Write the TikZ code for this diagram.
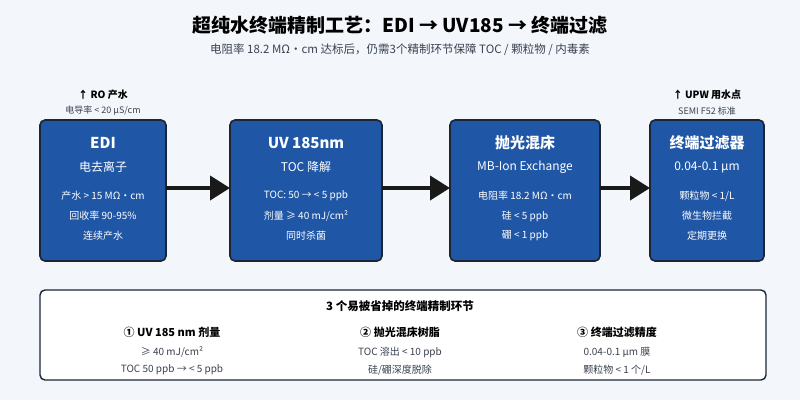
\documentclass[tikz,border=0pt]{standalone}
\usepackage{fontspec}
\setmainfont{Noto Sans CJK SC}
\usetikzlibrary{arrows.meta}
\definecolor{stepblue}{HTML}{1F56A6}
\definecolor{edge}{HTML}{1B2533}
\definecolor{bgc}{HTML}{F3F7FC}
\definecolor{subgray}{HTML}{3A4250}
\tikzset{
  stage/.style={draw=edge,line width=1.6pt,fill=stepblue,rounded corners=5pt},
  hd/.style={text=white,font=\bfseries\fontsize{15}{17}\selectfont},
  sub/.style={text=white,font=\fontsize{12}{14}\selectfont},
  ln/.style={text=white,font=\fontsize{10}{12}\selectfont},
  flow/.style={line width=4pt,draw=black!90,-{Triangle[length=20pt,width=24pt]}},
  note/.style={font=\fontsize{10}{12}\selectfont,text=subgray},
  notehd/.style={font=\bfseries\fontsize{11}{13}\selectfont},
}
\begin{document}
\begin{tikzpicture}[x=1pt,y=-1pt]
\fill[bgc] (0,0) rectangle (800,400);
\useasboundingbox (0,0) rectangle (800,400);

% title
\node[font=\bfseries\fontsize{19}{21}\selectfont] (title) at (400,25) {超纯水终端精制工艺：EDI → UV185 → 终端过滤};
\node[font=\fontsize{11.5}{13}\selectfont,text=subgray] (subtitle) at (400,50) {电阻率 18.2 MΩ・cm 达标后，仍需3个精制环节保障 TOC / 颗粒物 / 内毒素};

% stages
\draw[stage] (40,120) rectangle (166,261);
\draw[stage] (230,120) rectangle (382,261);
\draw[stage] (450,120) rectangle (600,261);
\draw[stage] (650,120) rectangle (764,261);
\coordinate (s1e) at (166,188);
\coordinate (s2w) at (230,188);
\coordinate (s2e) at (382,188);
\coordinate (s3w) at (450,188);
\coordinate (s3e) at (600,188);
\coordinate (s4w) at (650,188);

\node[hd] (edi) at (103,143) {EDI};
\node[sub] (edis) at (103,167) {电去离子};
\node[ln] (edi1) at (103,196) {产水 > 15 MΩ・cm};
\node[ln] (edi2) at (103,216) {回收率 90-95\%};
\node[ln] (edi3) at (103,236) {连续产水};

\node[hd] (uv) at (306,143) {UV 185nm};
\node[sub] (uvs) at (306,167) {TOC 降解};
\node[ln] (uv1) at (306,196) {TOC: 50 → < 5 ppb};
\node[ln] (uv2) at (306,216) {剂量 ≥ 40 mJ/cm²};
\node[ln] (uv3) at (306,236) {同时杀菌};

\node[hd] (mb) at (525,143) {抛光混床};
\node[sub] (mbs) at (525,167) {MB-Ion Exchange};
\node[ln] (mb1) at (525,196) {电阻率 18.2 MΩ・cm};
\node[ln] (mb2) at (525,216) {硅 < 5 ppb};
\node[ln] (mb3) at (525,236) {硼 < 1 ppb};

\node[hd] (flt) at (707,143) {终端过滤器};
\node[sub] (flts) at (707,167) {0.04-0.1 µm};
\node[ln] (flt1) at (707,196) {颗粒物 < 1/L};
\node[ln] (flt2) at (707,216) {微生物拦截};
\node[ln] (flt3) at (707,236) {定期更换};

\draw[flow] (s1e) -- (s2w);
\draw[flow] (s2e) -- (s3w);
\draw[flow] (s3e) -- (s4w);

% in / out notes
\node[notehd,font=\bfseries\fontsize{10}{12}\selectfont] (inlet) at (103,95) {↑ RO 产水};
\node[note,font=\fontsize{9}{11}\selectfont] (inlet2) at (103,111) {电导率 < 20 µS/cm};
\node[notehd,font=\bfseries\fontsize{10}{12}\selectfont] (outlet) at (707,95) {↑ UPW 用水点};
\node[note,font=\fontsize{9}{11}\selectfont] (outlet2) at (707,111) {SEMI F52 标准};

% bottom panel
\draw[draw=edge,line width=1.4pt,fill=white,rounded corners=5pt] (40,290) rectangle (766,380);
\node[font=\bfseries\fontsize{11.5}{13}\selectfont] (panel) at (400,306) {3 个易被省掉的终端精制环节};
\node[notehd] (k1) at (172,332) {① UV 185 nm 剂量};
\node[note] (k1a) at (172,352) {≥ 40 mJ/cm²};
\node[note] (k1b) at (172,370) {TOC 50 ppb → < 5 ppb};
\node[notehd] (k2) at (400,332) {② 抛光混床树脂};
\node[note] (k2a) at (400,352) {TOC 溶出 < 10 ppb};
\node[note] (k2b) at (400,370) {硅/硼深度脱除};
\node[notehd] (k3) at (617,332) {③ 终端过滤精度};
\node[note] (k3a) at (617,352) {0.04-0.1 µm 膜};
\node[note] (k3b) at (617,370) {颗粒物 < 1 个/L};
\end{tikzpicture}
\end{document}
